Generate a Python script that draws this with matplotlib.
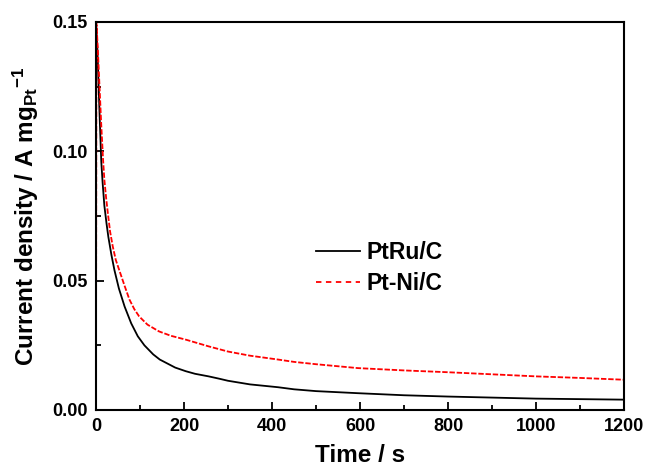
import matplotlib
matplotlib.use('Agg')
import matplotlib.pyplot as plt
from matplotlib.ticker import MultipleLocator, FormatStrFormatter

plt.rcParams['font.family'] = ['Liberation Sans', 'DejaVu Sans']
plt.rcParams['font.weight'] = 'bold'
plt.rcParams['mathtext.fontset'] = 'custom'
plt.rcParams['mathtext.rm'] = 'Liberation Sans:bold'
plt.rcParams['mathtext.bf'] = 'Liberation Sans:bold'
plt.rcParams['mathtext.it'] = 'Liberation Sans:bold'

# values
t_ptru = [0, 3, 6, 9, 12, 15, 19, 24, 28, 35, 42, 52, 65, 80, 95, 110, 130,
          145, 180, 204, 225, 256, 280, 300, 350, 414, 450, 500, 595, 700,
          800, 900, 1000, 1100, 1200]
j_ptru = [0.149, 0.140, 0.125, 0.110, 0.096, 0.088, 0.079, 0.072, 0.067,
          0.060, 0.054, 0.047, 0.040, 0.0335, 0.0285, 0.0250, 0.0215, 0.0195,
          0.0164, 0.0150, 0.0140, 0.0130, 0.0121, 0.0113, 0.0099, 0.0088,
          0.0080, 0.0073, 0.0065, 0.0057, 0.0052, 0.0048, 0.0044, 0.0042,
          0.0040]

t_ptni = [0, 1, 4, 8, 12, 16, 19, 23, 27, 32, 38, 45, 53, 65, 76, 87, 98,
          117, 143, 170, 204, 256, 300, 350, 414, 450, 500, 595, 700, 800,
          900, 1000, 1100, 1200]
j_ptni = [0.010, 0.150, 0.140, 0.125, 0.110, 0.097, 0.089, 0.082, 0.076,
          0.069, 0.0633, 0.058, 0.054, 0.048, 0.0427, 0.0390, 0.0362,
          0.0330, 0.0304, 0.0287, 0.0272, 0.0246, 0.0226, 0.0210, 0.0195,
          0.0186, 0.0177, 0.0162, 0.0153, 0.0146, 0.0138, 0.0130, 0.0124,
          0.0117]

fig = plt.figure(figsize=(6.47, 4.67), dpi=100)
ax = fig.add_axes([96 / 647, 1 - 410 / 467, 528 / 647, 388 / 467])

ax.plot(t_ptru, j_ptru, color='black', lw=1.3, label='PtRu/C')
ax.plot(t_ptni, j_ptni, color='red', lw=1.3, linestyle=(0, (3, 1)),
        label='Pt-Ni/C')

ax.set_xlim(0, 1200)
ax.set_ylim(0, 0.15)
ax.xaxis.set_major_locator(MultipleLocator(200))
ax.xaxis.set_minor_locator(MultipleLocator(100))
ax.yaxis.set_major_locator(MultipleLocator(0.05))
ax.yaxis.set_minor_locator(MultipleLocator(0.025))
ax.yaxis.set_major_formatter(FormatStrFormatter('%.2f'))
ax.tick_params(which='both', direction='in', top=False, right=False,
               labelsize=13, width=1.3)
ax.tick_params(which='major', length=6, pad=6)
ax.tick_params(which='minor', length=3.5)
for s in ax.spines.values():
  s.set_linewidth(1.5)

ax.set_xlabel('Time / s', fontsize=17.5, fontweight='bold', labelpad=6)
ax.set_ylabel(r'Current density / A mg$_{Pt}$$^{-1}$', fontsize=17.5,
              fontweight='bold', labelpad=8)

leg = ax.legend(loc='upper left', bbox_to_anchor=(316 / 647, 1 - 241 / 467),
                bbox_transform=fig.transFigure, frameon=False, fontsize=16.5,
                handlelength=1.9, handletextpad=0.3, labelspacing=0.35,
                borderpad=0, borderaxespad=0)
for line in leg.get_lines():
  line.set_linewidth(1.3)
  if line.get_color() == 'red':
    line.set_linestyle((0, (3, 2.5)))

fig.savefig('out.png', dpi=100)
